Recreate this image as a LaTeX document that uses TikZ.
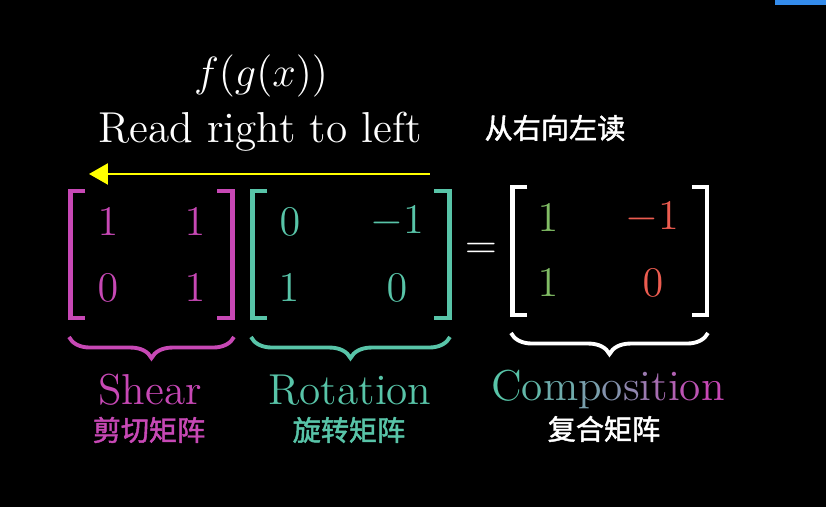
\documentclass[tikz,border=0pt]{standalone}
\usepackage{fontspec}
\usepackage{xcolor}
\usepackage{tikz}
\usetikzlibrary{decorations.pathreplacing,arrows.meta}
\usepackage{amsmath}
\newfontfamily\cjk{Noto Sans CJK SC}[FakeBold=1.6]
\definecolor{shearpink}{RGB}{199,72,181}
\definecolor{rotteal}{RGB}{88,196,168}
\definecolor{compgreen}{RGB}{128,188,100}
\definecolor{compred}{RGB}{236,92,80}
\definecolor{arrowyellow}{RGB}{255,255,0}
\definecolor{cornerblue}{RGB}{52,140,236}

% square brackets of one matrix: colour, left x, right x, top y, bottom y
\newcommand{\mbrackets}[5]{%
  \draw[bracketline,#1] (#2+15,#4) -- (#2,#4) -- (#2,#5) -- (#2+15,#5);
  \draw[bracketline,#1] (#3-15,#4) -- (#3,#4) -- (#3,#5) -- (#3-15,#5);}

\begin{document}
\begin{tikzpicture}[x=0.01cm,y=-0.01cm,
    entry/.style={text=#1,font=\fontsize{13}{15}\selectfont,inner sep=0pt},
    word/.style={text=#1,font=\fontsize{12.3}{14}\selectfont,anchor=base,inner sep=0pt},
    cn/.style={text=#1,font=\cjk\fontsize{8}{9}\selectfont,inner sep=0pt},
    bracketline/.style={line width=1.4pt,line join=miter},
    bracebar/.style={line width=1.1pt,decorate,decoration={brace,mirror,amplitude=6pt}}]

  \fill[black] (0,0) rectangle (826,507);
  \useasboundingbox (0,0) rectangle (826,507);
  \fill[cornerblue] (775,0) rectangle (826,5);

  % heading
  \node[word=white] (fgx) at (261,87) {$f(g(x))$};
  \node[word=white] (readrl) at (260,143) {Read right to left};
  \node[cn=white] (readcn) at (555,128) {从右向左读};

  \coordinate (arrowstart) at (430,174);
  \coordinate (arrowend) at (89,174);
  \draw[arrowyellow,line width=0.6pt,-{Triangle[length=5.4pt,width=6pt]}] (arrowstart) -- (arrowend);

  % shear matrix
  \mbrackets{shearpink}{70.5}{232.5}{191}{318}
  \node[entry=shearpink] (s11) at (108,222) {$1$};
  \node[entry=shearpink] (s12) at (195,222) {$1$};
  \node[entry=shearpink] (s21) at (108,288) {$0$};
  \node[entry=shearpink] (s22) at (195,288) {$1$};

  % rotation matrix
  \mbrackets{rotteal}{252.5}{449.5}{191}{318}
  \node[entry=rotteal] (r11) at (290,222) {$0$};
  \node[entry=rotteal] (r12) at (397,222) {$-1$};
  \node[entry=rotteal] (r21) at (289,288) {$1$};
  \node[entry=rotteal] (r22) at (397,288) {$0$};

  \node[entry=white] (eq) at (481,251) {$=$};

  % composition matrix
  \mbrackets{white}{512.5}{707}{187}{315}
  \node[entry=compgreen] (c11) at (548,218) {$1$};
  \node[entry=compred] (c12) at (652,218) {$-1$};
  \node[entry=compgreen] (c21) at (548,283) {$1$};
  \node[entry=compred] (c22) at (653,283) {$0$};

  % braces and names
  \draw[bracebar,shearpink] (69,337) -- (234,337);
  \draw[bracebar,rotteal] (251,337) -- (450,337);
  \draw[bracebar,white] (511,333) -- (708,333);

  \node[word=shearpink] (shear) at (150,405) {Shear};
  \node[cn=shearpink] (shearcn) at (149,430) {剪切矩阵};
  \node[word=rotteal] (rotation) at (350,405) {Rotation};
  \node[cn=rotteal] (rotationcn) at (349,430) {旋转矩阵};
  \node[word=white] (composition) at (608,401) {%
    \textcolor{shearpink!0!rotteal}{C}\textcolor{shearpink!10!rotteal}{o}%
    \textcolor{shearpink!20!rotteal}{m}\textcolor{shearpink!30!rotteal}{p}%
    \textcolor{shearpink!40!rotteal}{o}\textcolor{shearpink!50!rotteal}{s}%
    \textcolor{shearpink!60!rotteal}{i}\textcolor{shearpink!70!rotteal}{t}%
    \textcolor{shearpink!80!rotteal}{i}\textcolor{shearpink!90!rotteal}{o}%
    \textcolor{shearpink!100!rotteal}{n}};
  \node[cn=white] (compositioncn) at (604,429) {复合矩阵};
\end{tikzpicture}
\end{document}
